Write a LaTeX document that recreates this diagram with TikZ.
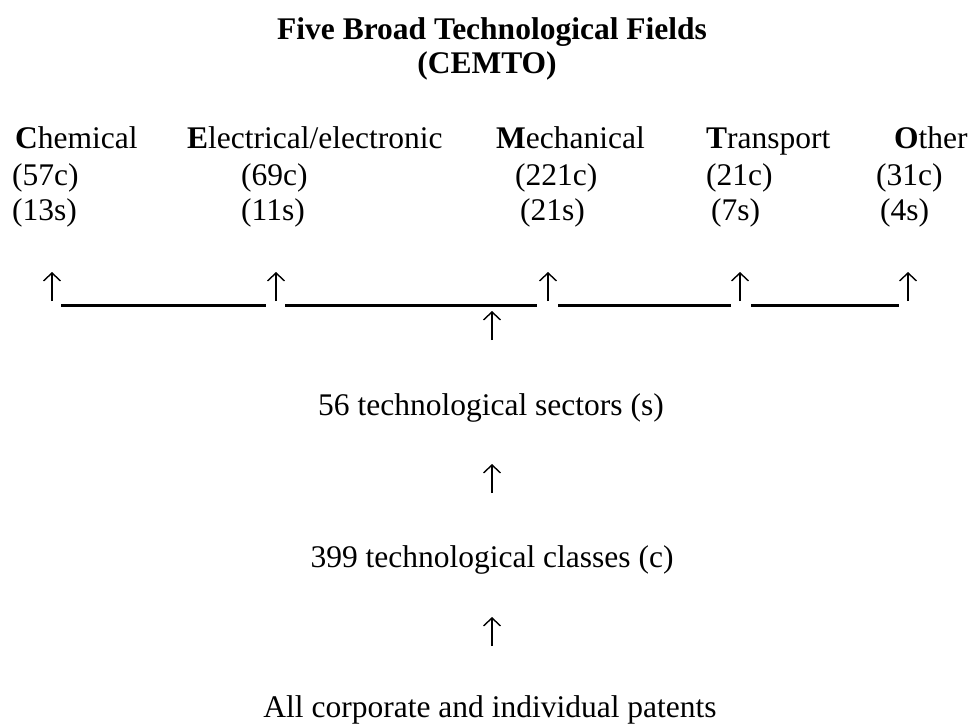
\documentclass[tikz,border=0pt]{standalone}
\usepackage{fontspec}
\setmainfont{Liberation Serif}
\usetikzlibrary{arrows.meta}
\begin{document}
\begin{tikzpicture}[x=1pt,y=-1pt,
  txt/.style={inner sep=0pt,anchor=base west,font=\fontsize{31.5}{37}\selectfont},
  ctxt/.style={txt,anchor=base},
  uparrow/.style={line width=1.4pt,-{Straight Barb[length=8pt,width=17pt,line width=1.4pt]}},
  baseline rule/.style={line width=3pt}]
\useasboundingbox (0,0) rectangle (974,726);
% title
\node[ctxt] (title) at (492,39) {\bfseries Five Broad Technological Fields};
\node[ctxt] (cemto) at (487,73) {\bfseries (CEMTO)};
% fields
\node[txt] (chem)  at (15,148)  {\textbf{C}hemical};
\node[txt] (elec)  at (187,148) {\textbf{E}lectrical/electronic};
\node[txt] (mech)  at (496,148) {\textbf{M}echanical};
\node[txt] (trans) at (706,148) {\textbf{T}ransport};
\node[txt] (other) at (894,148) {\textbf{O}ther};
% classes
\node[txt] (chemc)  at (12,185)  {(57c)};
\node[txt] (elecc)  at (241,185) {(69c)};
\node[txt] (mechc)  at (515,185) {(221c)};
\node[txt] (transc) at (706,185) {(21c)};
\node[txt] (otherc) at (876,185) {(31c)};
% sectors
\node[txt] (chems)  at (12,220)  {(13s)};
\node[txt] (elecs)  at (241,220) {(11s)};
\node[txt] (mechs)  at (520,220) {(21s)};
\node[txt] (transs) at (711,220) {(7s)};
\node[txt] (others) at (880,220) {(4s)};
% arrow row
\foreach \n/\x in {a/52,b/276,c/548,d/740,e/908}{
  \coordinate (\n0) at (\x,301);
  \coordinate (\n1) at (\x,272);
  \draw[uparrow] (\n0) -- (\n1);
}
\coordinate (l1a) at (61,305);  \coordinate (l1b) at (266,305);
\coordinate (l2a) at (285,305); \coordinate (l2b) at (537,305);
\coordinate (l3a) at (558,305); \coordinate (l3b) at (731,305);
\coordinate (l4a) at (751,305); \coordinate (l4b) at (899,305);
\draw[baseline rule] (l1a) -- (l1b);
\draw[baseline rule] (l2a) -- (l2b);
\draw[baseline rule] (l3a) -- (l3b);
\draw[baseline rule] (l4a) -- (l4b);
\coordinate (m0) at (492,340);
\coordinate (m1) at (492,311);
\draw[uparrow] (m0) -- (m1);
% lower chain
\node[ctxt] (sectors) at (491,415) {56 technological sectors (s)};
\coordinate (s0) at (492,493);
\coordinate (s1) at (492,464);
\draw[uparrow] (s0) -- (s1);
\node[ctxt] (classes) at (492,567) {399 technological classes (c)};
\coordinate (p0) at (492,646);
\coordinate (p1) at (492,617);
\draw[uparrow] (p0) -- (p1);
\node[ctxt] (patents) at (490,717) {All corporate and individual patents};
\end{tikzpicture}
\end{document}
